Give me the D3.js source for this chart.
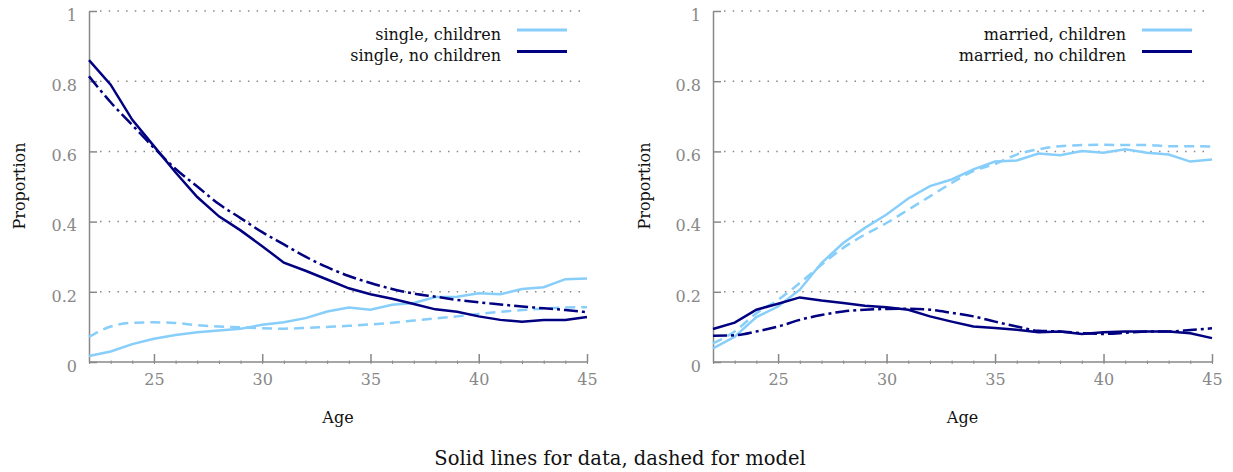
<!DOCTYPE html>
<html>
<head>
<meta charset="utf-8">
<script src="https://cdn.jsdelivr.net/npm/d3@7"></script>
<style>
  body { margin: 0; background: #fff; }
  text { font-family: "DejaVu Serif", serif; }
</style>
</head>
<body>
<script>
// ages on the x axis
const ages = [22, 23, 24, 25, 26, 27, 28, 29, 30, 31, 32, 33, 34, 35, 36, 37, 38, 39, 40, 41, 42, 43, 44, 45];
const xTicks = [25, 30, 35, 40, 45];
const yTicks = [0, 0.2, 0.4, 0.6, 0.8, 1];

// single
const singleChildrenData = [0.017, 0.03, 0.051, 0.066, 0.077, 0.085, 0.09, 0.095, 0.106, 0.113, 0.125, 0.144, 0.155, 0.149, 0.163, 0.168, 0.185, 0.186, 0.196, 0.193, 0.208, 0.213, 0.236, 0.238];
const singleChildrenModel = [0.072, 0.101, 0.112, 0.113, 0.111, 0.105, 0.101, 0.099, 0.096, 0.095, 0.097, 0.1, 0.103, 0.107, 0.112, 0.118, 0.124, 0.13, 0.137, 0.143, 0.148, 0.152, 0.155, 0.156];
const singleNoChildrenData = [0.86, 0.79, 0.69, 0.615, 0.54, 0.47, 0.415, 0.375, 0.33, 0.283, 0.26, 0.235, 0.21, 0.193, 0.18, 0.165, 0.15, 0.143, 0.13, 0.12, 0.115, 0.12, 0.12, 0.128];
const singleNoChildrenModel = [0.814, 0.74, 0.675, 0.61, 0.55, 0.5, 0.45, 0.41, 0.37, 0.335, 0.3, 0.27, 0.245, 0.225, 0.208, 0.195, 0.186, 0.177, 0.17, 0.164, 0.158, 0.153, 0.148, 0.142];

// married
const marriedChildrenData = [0.039, 0.072, 0.128, 0.158, 0.206, 0.282, 0.339, 0.382, 0.42, 0.466, 0.501, 0.52, 0.549, 0.571, 0.574, 0.594, 0.589, 0.601, 0.596, 0.606, 0.596, 0.591, 0.571, 0.577];
const marriedChildrenModel = [0.053, 0.087, 0.139, 0.177, 0.225, 0.277, 0.325, 0.363, 0.396, 0.434, 0.472, 0.51, 0.544, 0.564, 0.591, 0.606, 0.615, 0.618, 0.619, 0.618, 0.618, 0.615, 0.615, 0.614];
const marriedNoChildrenData = [0.094, 0.112, 0.149, 0.166, 0.184, 0.175, 0.168, 0.16, 0.156, 0.149, 0.13, 0.115, 0.101, 0.097, 0.092, 0.085, 0.087, 0.08, 0.085, 0.087, 0.087, 0.087, 0.082, 0.068];
const marriedNoChildrenModel = [0.075, 0.076, 0.087, 0.101, 0.12, 0.134, 0.144, 0.149, 0.151, 0.152, 0.149, 0.14, 0.13, 0.115, 0.101, 0.089, 0.087, 0.082, 0.08, 0.083, 0.087, 0.087, 0.091, 0.096];

const singleLegend = ["single, children", "single, no children"];
const marriedLegend = ["married, children", "married, no children"];

const light = "#87cefa";
const dark = "#000080";
const grey = "#888";

const width = 1233;
const height = 472;
const plotTop = 11, plotBottom = 362;

const svg = d3.select("body").append("svg")
  .attr("width", width)
  .attr("height", height);

const panels = [
  { left: 89, right: 587, labelX: 25, legend: singleLegend, legendRight: 501,
    series: [
      { values: singleChildrenModel, color: light, dash: "10,6", curve: d3.curveMonotoneX },
      { values: singleChildrenData, color: light, dash: null, curve: d3.curveLinear },
      { values: singleNoChildrenModel, color: dark, dash: "14,4,3,4", curve: d3.curveMonotoneX },
      { values: singleNoChildrenData, color: dark, dash: null, curve: d3.curveLinear },
    ] },
  { left: 713, right: 1212, labelX: 650, legend: marriedLegend, legendRight: 1126,
    series: [
      { values: marriedChildrenModel, color: light, dash: "10,6", curve: d3.curveMonotoneX },
      { values: marriedChildrenData, color: light, dash: null, curve: d3.curveLinear },
      { values: marriedNoChildrenModel, color: dark, dash: "14,4,3,4", curve: d3.curveMonotoneX },
      { values: marriedNoChildrenData, color: dark, dash: null, curve: d3.curveLinear },
    ] },
];

const y = d3.scaleLinear().domain([0, 1]).range([plotBottom, plotTop]);
const fmt = (d) => String(+d.toFixed(1));

for (const p of panels) {
  const x = d3.scaleLinear().domain([22, 45]).range([p.left, p.right]);
  const g = svg.append("g");

  // dotted grid
  g.selectAll(".grid")
    .data(yTicks.filter((d) => d > 0))
    .join("line")
    .attr("x1", p.left + 11)
    .attr("x2", p.right - 5)
    .attr("y1", (d) => y(d))
    .attr("y2", (d) => y(d))
    .attr("stroke", grey)
    .attr("stroke-width", 1.5)
    .attr("stroke-dasharray", "1.5,7.2");

  // minor ticks every year
  g.append("g")
    .attr("transform", `translate(0,${plotBottom})`)
    .call(d3.axisBottom(x).tickValues(ages).tickSize(3).tickSizeOuter(0).tickFormat(""))
    .call((a) => a.select(".domain").remove())
    .call((a) => a.selectAll("line").attr("stroke", grey).attr("stroke-width", 1).attr("y1", -1.5).attr("y2", 2));

  // x axis
  const xa = g.append("g")
    .attr("transform", `translate(0,${plotBottom})`)
    .call(d3.axisBottom(x).tickValues(xTicks).tickSize(-8).tickSizeOuter(0).tickPadding(20));
  xa.select(".domain").attr("stroke", grey).attr("stroke-width", 1.5).attr("d", `M${p.left},0H${p.right}`);
  xa.selectAll(".tick line").attr("stroke", grey).attr("stroke-width", 1.5);
  xa.selectAll("text")
    .attr("fill", grey)
    .attr("font-size", 16)
    .attr("font-family", "DejaVu Serif")
    .attr("dy", "0.2em");

  // y axis
  const ya = g.append("g")
    .attr("transform", `translate(${p.left},0)`)
    .call(d3.axisLeft(y).tickValues(yTicks).tickSize(-8).tickSizeOuter(0).tickPadding(12).tickFormat(fmt));
  ya.select(".domain").attr("stroke", grey).attr("stroke-width", 1.5);
  ya.selectAll(".tick line").attr("stroke", grey).attr("stroke-width", 1.5);
  ya.selectAll("text")
    .attr("fill", grey)
    .attr("font-size", 16)
    .attr("font-family", "DejaVu Serif")
    .attr("dy", "0.58em");

  // lines
  for (const s of p.series) {
    const line = d3.line()
      .curve(s.curve)
      .x((d, i) => x(ages[i]))
      .y((d) => y(d));
    g.append("path")
      .attr("d", line(s.values))
      .attr("fill", "none")
      .attr("stroke", s.color)
      .attr("stroke-width", 2.5)
      .attr("stroke-dasharray", s.dash);
  }

  // legend
  const colors = [light, dark];
  p.legend.forEach((name, i) => {
    const ly = 30 + i * 21.5;
    g.append("text")
      .attr("x", p.legendRight)
      .attr("y", ly + 9.5)
      .attr("text-anchor", "end")
      .attr("font-size", 16)
      .attr("fill", "#111")
      .text(name);
    g.append("line")
      .attr("x1", p.legendRight + 16)
      .attr("x2", p.legendRight + 66)
      .attr("y1", ly)
      .attr("y2", ly)
      .attr("stroke", colors[i])
      .attr("stroke-width", 3);
  });

  // axis titles
  g.append("text")
    .attr("x", (p.left + p.right) / 2)
    .attr("y", 423)
    .attr("text-anchor", "middle")
    .attr("font-size", 16)
    .attr("fill", "#111")
    .text("Age");
  g.append("text")
    .attr("transform", `translate(${p.labelX},186) rotate(-90)`)
    .attr("text-anchor", "middle")
    .attr("font-size", 16)
    .attr("fill", "#111")
    .text("Proportion");
}

svg.append("text")
  .attr("x", 620)
  .attr("y", 465)
  .attr("text-anchor", "middle")
  .attr("font-size", 19.5)
  .attr("fill", "#111")
  .text("Solid lines for data, dashed for model");
</script>
</body>
</html>
